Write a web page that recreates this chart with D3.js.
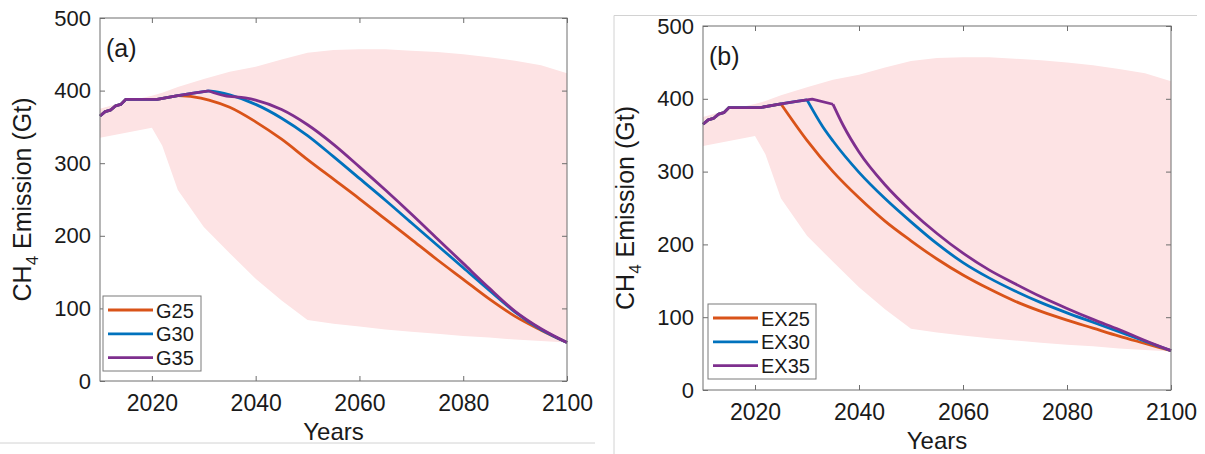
<!DOCTYPE html>
<html>
<head>
<meta charset="utf-8">
<script src="https://cdn.jsdelivr.net/npm/d3@7"></script>
<style>
  body { margin: 0; background: #fff; }
  text { font-family: "Liberation Sans", Arial, sans-serif; fill: #1a1a1a; }
</style>
</head>
<body>
<div id="vis"></div>
<script>
// shared history (all scenarios follow it until they branch off)
const histYears = [2010, 2011, 2012, 2013, 2014, 2015, 2021, 2025, 2028, 2031];
const histValues = [365, 371, 373, 379, 381, 388, 388, 393, 396.5, 399.5];

// uncertainty band
const bandYears = [2010, 2015, 2020, 2022, 2025, 2030, 2035, 2040, 2045, 2050, 2055, 2060, 2065, 2070, 2075, 2080, 2085, 2090, 2095, 2100];
const bandLow = [335, 342, 349, 324, 263, 212, 176, 141, 111, 84, 79, 75, 71, 68, 65, 62, 60, 57, 55, 53];
const bandHigh = [375, 385, 393, 397, 405, 416, 426, 433, 443, 452, 456, 457, 457, 455, 453, 450, 446, 441, 435, 424];

// panel (a) gradual scenarios
const g25Years = [2025, 2028, 2031, 2035, 2040, 2045, 2050, 2055, 2060, 2065, 2070, 2075, 2080, 2085, 2090, 2095, 2100];
const g25Values = [393, 391.5, 387, 377, 357, 333, 305, 278, 251, 223, 195, 167, 140, 113, 89, 70, 53];
const g30Years = [2031, 2033, 2035, 2040, 2045, 2050, 2055, 2060, 2065, 2070, 2075, 2080, 2085, 2090, 2095, 2100];
const g30Values = [399.5, 397.5, 394, 381, 362, 338, 309, 279, 249, 218, 187, 156, 125, 95, 71, 53];
const g35Years = [2031, 2034, 2038, 2040, 2045, 2050, 2055, 2060, 2065, 2070, 2075, 2080, 2085, 2090, 2095, 2100];
const g35Values = [399.5, 393, 390, 387, 374, 353, 326, 295, 263, 230, 196, 162, 128, 96, 72, 53];

// panel (b) exponential scenarios
const ex25Years = [2025, 2030, 2035, 2040, 2045, 2050, 2055, 2060, 2065, 2070, 2075, 2080, 2085, 2090, 2095, 2100];
const ex25Values = [393, 343, 300, 264, 232, 205, 180, 158, 139, 122, 108, 96, 85, 74, 64, 54];
const ex30Years = [2030, 2033, 2035, 2040, 2045, 2050, 2055, 2060, 2065, 2070, 2075, 2080, 2085, 2090, 2095, 2100];
const ex30Values = [398.5, 362, 342, 299, 263, 231, 201, 175, 154, 136, 120, 106, 93, 80, 67, 54];
const ex35Years = [2035, 2037, 2040, 2045, 2050, 2055, 2060, 2065, 2070, 2075, 2080, 2085, 2090, 2095, 2100];
const ex35Values = [392.5, 363, 327, 282, 246, 215, 188, 165, 146, 128, 112, 97, 83, 68, 54];

const xTicks = [2020, 2040, 2060, 2080, 2100];
const yTicks = [0, 100, 200, 300, 400, 500];
const colors = ['#D95319', '#0072BD', '#7E2F8E'];

function buildSeries(names, yearsList, valuesList) {
    return names.map((name, i) => {
        const start = yearsList[i][0];
        const proj = yearsList[i].map((yr, j) => ({ year: yr, value: valuesList[i][j] }));
        const hist = histYears.map((yr, j) => ({ year: yr, value: histValues[j] }))
            .filter(p => p.year < start);
        hist.push(proj[0]);
        return { name: name, color: colors[i], hist: hist, proj: proj };
    });
}

class EmissionPanel {
    constructor(svg, config) {
        this.svg = svg;
        this.config = config;
        this.initVis();
    }
    initVis() {
        let vis = this;
        const c = vis.config;
        vis.g = vis.svg.append('g');
        vis.x = d3.scaleLinear().domain([2010, 2100]).range([c.left, c.right]);
        vis.y = d3.scaleLinear().domain([0, 500]).range([c.bottom, c.top]);
    }
    renderVis(series) {
        let vis = this;
        const c = vis.config;
        const band = bandYears.map((yr, i) => ({ year: yr, lo: bandLow[i], hi: bandHigh[i] }));

        vis.g.append('path')
            .datum(band)
            .attr('fill', '#fde3e4')
            .attr('d', d3.area()
                .x(d => vis.x(d.year))
                .y0(d => vis.y(d.lo))
                .y1(d => vis.y(d.hi)));

        const histLine = d3.line()
            .x(d => vis.x(d.year))
            .y(d => vis.y(d.value));
        const projLine = d3.line()
            .x(d => vis.x(d.year))
            .y(d => vis.y(d.value))
            .curve(d3.curveMonotoneX);

        series.forEach(s => {
            vis.g.append('path')
                .attr('fill', 'none')
                .attr('stroke', s.color)
                .attr('stroke-width', 2.8)
                .attr('stroke-linejoin', 'round')
                .attr('d', projLine(s.proj));
            vis.g.append('path')
                .attr('fill', 'none')
                .attr('stroke', s.color)
                .attr('stroke-width', 2.8)
                .attr('stroke-linejoin', 'round')
                .attr('d', histLine(s.hist));
        });

        // axes, MATLAB style: ticks inward on all four sides
        const bottom = vis.g.append('g')
            .attr('transform', `translate(0,${c.bottom})`)
            .call(d3.axisBottom(vis.x).tickValues(xTicks).tickFormat(d3.format('d'))
                .tickSize(-5).tickSizeOuter(0).tickPadding(14));
        const left = vis.g.append('g')
            .attr('transform', `translate(${c.left},0)`)
            .call(d3.axisLeft(vis.y).tickValues(yTicks).tickSize(-5).tickSizeOuter(0).tickPadding(9));
        vis.g.append('g')
            .attr('transform', `translate(0,${c.top})`)
            .call(d3.axisTop(vis.x).tickValues(xTicks).tickSize(-5).tickSizeOuter(0).tickFormat(''));
        vis.g.append('g')
            .attr('transform', `translate(${c.right},0)`)
            .call(d3.axisRight(vis.y).tickValues(yTicks).tickSize(-5).tickSizeOuter(0).tickFormat(''));

        vis.g.selectAll('.domain').remove();
        vis.g.selectAll('.tick line').attr('stroke', '#6e6e6e');
        bottom.selectAll('text').style('font-size', '23px').attr('fill', '#1a1a1a');
        left.selectAll('text').style('font-size', '22px').attr('fill', '#1a1a1a');

        vis.g.append('rect')
            .attr('x', c.left).attr('y', c.top)
            .attr('width', c.right - c.left).attr('height', c.bottom - c.top)
            .attr('fill', 'none').attr('stroke', '#6e6e6e').attr('stroke-width', 1);

        // axis titles
        vis.g.append('text')
            .attr('x', (c.left + c.right) / 2)
            .attr('y', c.bottom + 59)
            .attr('text-anchor', 'middle')
            .style('font-size', '24px')
            .text('Years');

        const yl = vis.g.append('text')
            .attr('transform', `translate(${c.ylabelX},${(c.top + c.bottom) / 2}) rotate(-90)`)
            .attr('text-anchor', 'middle')
            .style('font-size', '25px');
        yl.append('tspan').text('CH');
        yl.append('tspan').attr('dy', 7).style('font-size', '17px').text('4');
        yl.append('tspan').attr('dy', -7).text(' Emission (Gt)');

        vis.g.append('text')
            .attr('x', c.left + 6)
            .attr('y', c.top + 39)
            .style('font-size', '25px')
            .text(c.tag);

        // legend
        const lg = vis.g.append('g').attr('transform', `translate(${c.legX},${c.legY})`);
        lg.append('rect')
            .attr('width', c.legW).attr('height', 75)
            .attr('fill', '#fff').attr('stroke', '#7a7a7a');
        const rows = lg.selectAll('.row')
            .data(series)
            .join('g')
            .attr('class', 'row')
            .attr('transform', (d, i) => `translate(0,${14 + i * 23.8})`);
        rows.append('line')
            .attr('x1', 5).attr('x2', 50)
            .attr('stroke', d => d.color).attr('stroke-width', 2.8);
        rows.append('text')
            .attr('x', 53).attr('y', 7.5)
            .style('font-size', '20px')
            .text(d => d.name);
    }
}

const svg = d3.select('#vis')
    .append('svg')
    .attr('width', 1205)
    .attr('height', 454);

// panel frame lines
svg.append('line').attr('x1', 0).attr('x2', 595).attr('y1', 443).attr('y2', 443)
    .attr('stroke', '#d2d2d2');
svg.append('line').attr('x1', 614).attr('x2', 1197).attr('y1', 15.5).attr('y2', 15.5)
    .attr('stroke', '#d2d2d2');
svg.append('line').attr('x1', 614).attr('x2', 614).attr('y1', 15.5).attr('y2', 454)
    .attr('stroke', '#d2d2d2');

const panelA = new EmissionPanel(svg, {
    left: 100, right: 567, top: 18, bottom: 381, tag: '(a)', ylabelX: 31,
    legX: 103, legY: 296, legW: 98
});
panelA.renderVis(buildSeries(['G25', 'G30', 'G35'],
    [g25Years, g30Years, g35Years], [g25Values, g30Values, g35Values]));

const panelB = new EmissionPanel(svg, {
    left: 703, right: 1171, top: 26, bottom: 390, tag: '(b)', ylabelX: 634,
    legX: 708, legY: 304, legW: 108
});
panelB.renderVis(buildSeries(['EX25', 'EX30', 'EX35'],
    [ex25Years, ex30Years, ex35Years], [ex25Values, ex30Values, ex35Values]));
</script>
</body>
</html>
